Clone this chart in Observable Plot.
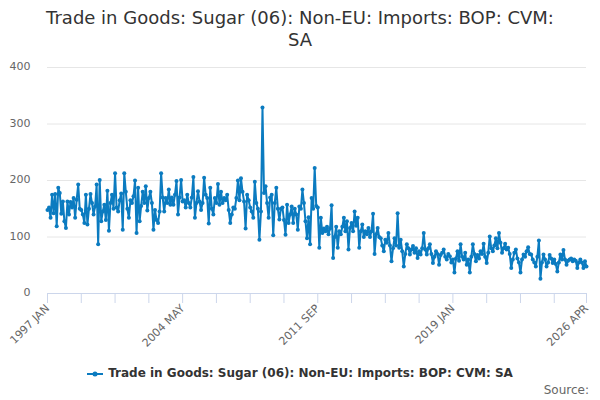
<!DOCTYPE html>
<html>
<head>
<meta charset="utf-8">
<script src="https://cdn.jsdelivr.net/npm/d3@7"></script>
<script src="https://cdn.jsdelivr.net/npm/@observablehq/plot@0.6"></script>
<style>
  body { margin: 0; background: #fff; font-family: "DejaVu Sans", sans-serif; }
  #wrap { position: relative; width: 600px; height: 400px; overflow: hidden; background: #fff; }
  #title { position: absolute; top: 7px; left: 10px; width: 580px; text-align: center; font-size: 18px; line-height: 22px; color: #333; }
  #chart { position: absolute; top: 56px; left: 0; }
  #legend { position: absolute; top: 366px; left: 0; width: 600px; text-align: center; font-size: 12px; font-weight: bold; color: #333; }
  #legend svg { vertical-align: middle; margin-right: 5px; }
  #source { position: absolute; top: 383px; right: 11px; font-size: 12px; color: #666; }
</style>
</head>
<body>
<div id="wrap">
  <div id="title"></div>
  <div id="chart"></div>
  <div id="legend"></div>
  <div id="source">Source:</div>
</div>
<script>
const titleLines = ["Trade in Goods: Sugar (06): Non-EU: Imports: BOP: CVM:", "SA"];
const seriesName = "Trade in Goods: Sugar (06): Non-EU: Imports: BOP: CVM: SA";
const startYear = 1997;
const monthNames = ["JAN","FEB","MAR","APR","MAY","JUN","JUL","AUG","SEP","OCT","NOV","DEC"];
const values = [
  148,152,134,175,142,176,119,187,178,141,163,128,
  116,163,140,162,152,169,134,166,193,150,148,140,
  125,175,122,150,176,160,140,154,193,87,201,128,
  145,157,130,182,111,160,175,150,213,152,145,165,
  177,113,213,180,150,134,165,160,172,200,107,187,
  128,155,180,160,190,147,169,180,160,113,148,130,
  125,145,213,170,145,169,160,184,157,170,157,175,
  199,140,170,201,163,165,152,175,160,152,170,206,
  134,160,181,163,148,160,205,175,169,124,187,150,
  140,169,160,194,157,180,160,169,165,175,148,125,
  140,152,150,169,200,165,204,180,163,115,175,165,
  152,145,134,198,160,150,95,145,329,178,190,160,
  134,170,175,103,160,187,150,131,150,152,130,104,
  157,125,140,154,125,150,140,113,154,150,184,160,
  128,98,135,87,169,150,222,155,152,81,134,107,
  115,110,118,105,115,156,63,100,118,81,110,105,
  118,134,110,128,78,116,125,110,145,120,134,81,
  110,122,100,110,105,116,100,110,141,70,105,116,
  100,98,85,75,95,90,107,85,57,80,98,85,
  142,81,95,75,48,70,87,80,69,78,84,72,
  80,63,75,69,80,107,78,69,80,87,70,54,
  65,75,70,51,68,72,78,65,60,70,66,55,
  60,37,62,75,58,87,65,60,72,51,60,37,
  65,87,70,57,68,62,75,70,88,65,54,72,
  101,80,75,85,98,80,107,90,72,80,88,78,
  81,70,45,60,72,78,62,55,37,60,69,65,
  75,82,70,69,60,55,48,65,94,26,55,69,
  60,48,55,68,62,54,60,52,39,55,69,60,
  77,60,51,58,60,62,57,60,58,45,55,60,
  55,45,57,48
];
const xTickLabels = ["1997 JAN","2004 MAY","2011 SEP","2019 JAN","2026 APR"];
const yTicks = [0, 100, 200, 300, 400];
const tickStep = 22;

const titleEl = document.getElementById("title");
titleLines.forEach(t => { const d = document.createElement("div"); d.textContent = t; titleEl.appendChild(d); });

const categories = values.map((v, i) => `${startYear + Math.floor(i / 12)} ${monthNames[i % 12]}`);
const data = values.map((v, i) => ({i, cat: categories[i], v}));
const lastIndex = values.length - 1;
const xTicks = d3.range(0, lastIndex, tickStep).concat([lastIndex]);
const labelAt = new Map(xTickLabels.map(l => [categories.indexOf(l), l]));
const color = "#0b7bc0";

const chart = Plot.plot({
  width: 600,
  height: 300,
  marginTop: 11,
  marginBottom: 63,
  marginLeft: 47,
  marginRight: 14,
  style: {fontFamily: "DejaVu Sans, sans-serif", fontSize: "11px", background: "#fff"},
  x: {domain: [0, lastIndex]},
  y: {domain: [0, 400]},
  marks: [
    Plot.ruleY(yTicks.filter(d => d > 0), {stroke: "#e6e6e6", strokeWidth: 1}),
    Plot.axisY({ticks: yTicks, tickSize: 0, tickPadding: 17, fill: "#666", fontSize: 11, label: null, dy: -1}),
    Plot.ruleY([0], {stroke: "#ccd6eb", strokeWidth: 1}),
    Plot.axisX({ticks: xTicks, tickSize: 10, stroke: "#ccd6eb", tickFormat: d => labelAt.get(d) || "", tickRotate: -45, fill: "#666", fontSize: 11, label: null, tickPadding: 3}),
    Plot.line(data, {x: "i", y: "v", stroke: color, strokeWidth: 2}),
    Plot.dot(data, {x: "i", y: "v", r: 2, fill: color, stroke: "none"})
  ]
});
document.getElementById("chart").appendChild(chart);

document.getElementById("legend").innerHTML =
  `<svg width="16" height="10"><line x1="0" y1="5" x2="16" y2="5" stroke="${color}" stroke-width="2"/><circle cx="8" cy="5" r="2.5" fill="${color}"/></svg>` + seriesName;
</script>
</body>
</html>
